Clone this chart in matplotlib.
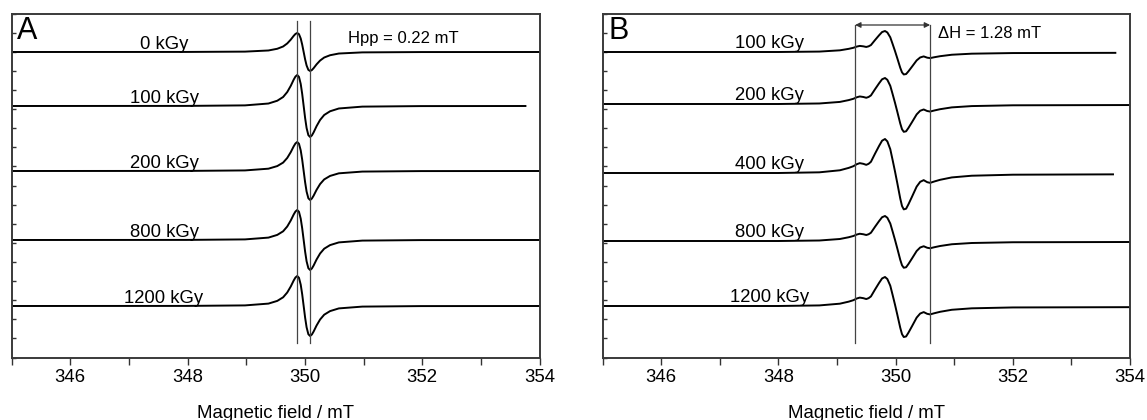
import numpy as np
import matplotlib
matplotlib.use('Agg')
import matplotlib.pyplot as plt

plt.rcParams['font.family'] = ['Liberation Sans', 'DejaVu Sans']

# ---------------- data ----------------
# panel A : narrow line, same shape for every dose (normalised to peak = 1)
field_a = [345.0, 347.98, 348.98, 349.38, 349.53, 349.63, 349.70, 349.76, 349.81,
           349.84, 349.87, 349.90, 349.93, 349.955, 349.98, 350.005, 350.03, 350.06,
           350.09, 350.12, 350.15, 350.20, 350.26, 350.33, 350.43, 350.58, 350.98,
           351.98, 354.0]
shape_a = [0.0, 0.003, 0.02, 0.08, 0.17, 0.29, 0.45, 0.65, 0.85,
           0.95, 1.0, 0.94, 0.71, 0.39, 0.0, -0.39, -0.71, -0.94,
           -1.0, -0.95, -0.85, -0.65, -0.45, -0.29, -0.17, -0.08, -0.02,
           -0.003, 0.0]
labels_a = ['0 kGy', '100 kGy', '200 kGy', '800 kGy', '1200 kGy']
offset_a = [305.5, 251.5, 186.5, 117.5, 51.5]
amp_a = [19, 31, 29, 30, 30]
end_a = [354.0, 353.76, 354.0, 354.0, 354.0]
hpp_lines = [349.87, 350.09]

# panel B : broad line with shoulders
field_b = [345.0, 348.0, 348.7, 349.05, 349.2, 349.28, 349.34, 349.39, 349.45, 349.5,
           349.54, 349.58, 349.65, 349.72, 349.77, 349.82, 349.86, 349.91, 349.95,
           349.99, 350.03, 350.08, 350.11, 350.14, 350.18, 350.22, 350.28, 350.36,
           350.42, 350.48, 350.54, 350.59, 350.66, 350.76, 350.96, 351.3, 352.0, 354.0]
shape_b = [0.0, 0.0, 0.02, 0.08, 0.15, 0.2, 0.26, 0.29, 0.27, 0.24,
           0.27, 0.33, 0.57, 0.8, 0.95, 1.0, 0.93, 0.7, 0.38,
           0.05, -0.3, -0.75, -0.97, -1.07, -1.05, -0.92, -0.7, -0.4,
           -0.26, -0.21, -0.27, -0.29, -0.25, -0.2, -0.13, -0.08, -0.05, -0.04]
labels_b = ['100 kGy', '200 kGy', '400 kGy', '800 kGy', '1200 kGy']
offset_b = [305.5, 253.5, 184.5, 116.5, 51.5]
amp_b = [21, 26, 34, 25, 29]
end_b = [353.75, 354.0, 353.71, 354.0, 354.0]
dh_lines = [349.31, 350.59]

xticks = [345, 346, 347, 348, 349, 350, 351, 352, 353, 354]
xticklabels = ['', '346', '', '348', '', '350', '', '352', '', '354']

fig = plt.figure(figsize=(11.47, 4.2), dpi=100)
axA = fig.add_axes([11.5 / 1147, 62.5 / 420, 528 / 1147, 344 / 420])
axB = fig.add_axes([602.5 / 1147, 62.5 / 420, 527.5 / 1147, 344 / 420])


def style_axis(ax):
    ax.set_xlim(345, 354)
    ax.set_ylim(0, 344)
    ax.set_xticks(xticks)
    ax.set_xticklabels(xticklabels)
    ax.set_yticks(np.linspace(0, 344, 19))
    ax.set_yticklabels([])
    ax.tick_params(axis='x', direction='out', length=5, width=1.0, labelsize=13.4,
                   pad=3, color='#333333')
    ax.tick_params(axis='y', direction='in', length=3, width=1.0, color='#333333')
    for s in ax.spines.values():
        s.set_linewidth(1.4)
        s.set_color('#3a3a3a')
    ax.set_xlabel('Magnetic field / mT', fontsize=13.4, labelpad=14)


# ---- panel A ----
for lab, off, amp, end in zip(labels_a, offset_a, amp_a, end_a):
    x = np.array(field_a)
    x[-1] = end
    y = off + amp * np.array(shape_a)
    axA.plot(x, y, color='black', lw=1.4)
    axA.text(347.6, off + 3, lab, fontsize=13.3, ha='center', va='baseline')
for xv in hpp_lines:
    axA.plot([xv, xv], [14.5, 336.5], color='#444444', lw=0.9)
axA.text(350.73, 315, 'Hpp = 0.22 mT', fontsize=12, va='baseline')
axA.text(0.011, 0.926, 'A', transform=axA.transAxes, fontsize=22, va='baseline')
style_axis(axA)

# ---- panel B ----
for lab, off, amp, end in zip(labels_b, offset_b, amp_b, end_b):
    x = np.array(field_b)
    x[-1] = end
    y = off + amp * np.array(shape_b)
    axB.plot(x, y, color='black', lw=1.4)
    axB.text(347.85, off + 4, lab, fontsize=13.3, ha='center', va='baseline')
for xv in dh_lines:
    axB.plot([xv, xv], [14.5, 332.5], color='#444444', lw=0.9)
axB.annotate('', xy=(dh_lines[0], 332.5), xytext=(dh_lines[1], 332.5),
             arrowprops=dict(arrowstyle='<|-|>', color='#333333', lw=0.9,
                             mutation_scale=8, shrinkA=0, shrinkB=0))
axB.text(350.73, 319, '\u0394H = 1.28 mT', fontsize=12, va='baseline')
axB.text(0.011, 0.926, 'B', transform=axB.transAxes, fontsize=22, va='baseline')
style_axis(axB)

fig.savefig('out.png', dpi=100)
